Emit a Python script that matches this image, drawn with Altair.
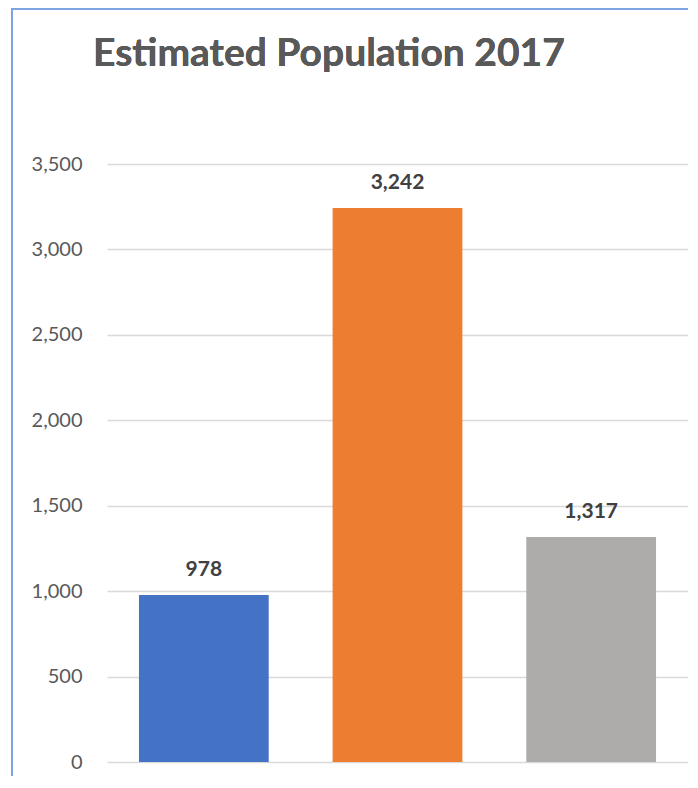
import altair as alt
import pandas as pd

title_text = "Estimated Population 2017"
categories = ["Area 1", "Area 2", "Area 3"]
values = [978, 3242, 1317]
colors = ["#4472C4", "#ED7D31", "#AEABAB"]
tick_values = [0, 500, 1000, 1500, 2000, 2500, 3000, 3500]

df = pd.DataFrame({"cat": categories, "value": values, "color": colors})

W, H = 581, 598

x = alt.X("cat:N", sort=categories, axis=None,
          scale=alt.Scale(paddingInner=0.33, paddingOuter=0.165))
y = alt.Y("value:Q", scale=alt.Scale(domain=[0, 3500], nice=False),
          axis=alt.Axis(values=tick_values, format=",.0f", title=None,
                        domain=False, ticks=False, labelPadding=25,
                        labelFont="Lato", labelFontSize=20,
                        labelColor="#595959", gridColor="#D9D9D9",
                        gridWidth=1.5))

bars = alt.Chart(df).mark_bar().encode(
    x=x, y=y, color=alt.Color("color:N", scale=None)
)
labels = alt.Chart(df).mark_text(
    baseline="alphabetic", dy=-19, font="Lato", fontWeight="bold",
    fontSize=21, color="#404040"
).encode(x=x, y=y, text=alt.Text("value:Q", format=",.0f"))

title = alt.Chart(df).mark_text(
    align="left", baseline="alphabetic", font="Lato", fontWeight="bold",
    fontSize=39, color="#595959"
).encode(x=alt.value(-14), y=alt.value(-98), text=alt.value(title_text))

border_left = alt.Chart(df).mark_rule(color="#7DA3E0", strokeWidth=2).encode(
    x=alt.value(-95), y=alt.value(-156), y2=alt.value(H + 40)
)
border_top = alt.Chart(df).mark_rule(color="#7DA3E0", strokeWidth=2).encode(
    x=alt.value(-95), x2=alt.value(600), y=alt.value(-155)
)

chart = alt.layer(bars, labels, title, border_left, border_top).properties(
    width=W, height=H,
    autosize=alt.AutoSizeParams(type="none"),
    padding={"left": 99, "top": 156, "right": 0, "bottom": 14},
).configure_view(stroke=None)

chart.save("out.html", embed_options={"renderer": "svg", "actions": False})
